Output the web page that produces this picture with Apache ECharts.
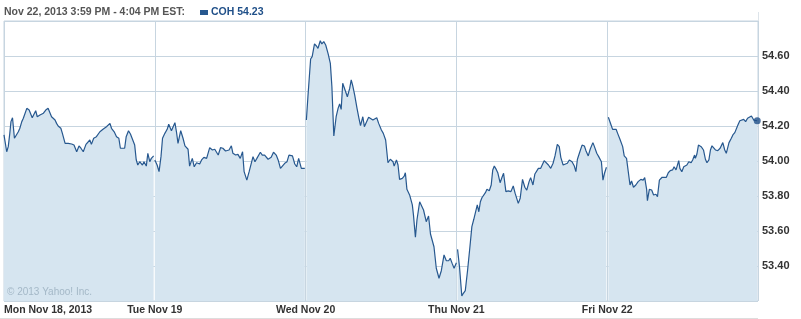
<!DOCTYPE html>
<html>
<head>
<meta charset="utf-8">
<script src="https://cdn.jsdelivr.net/npm/echarts@6/dist/echarts.min.js"></script>
<style>html,body{margin:0;padding:0;background:#fff}#c{width:801px;height:319px}</style>
</head>
<body>
<div id="c"></div>
<script>
// Day labels for the x axis
var dayLabels = ['Mon Nov 18, 2013', 'Tue Nov 19', 'Wed Nov 20', 'Thu Nov 21', 'Fri Nov 22'];
// Y tick values
var yTicks = [53.2, 53.4, 53.6, 53.8, 54.0, 54.2, 54.4, 54.6, 54.8];
var headerText = 'Nov 22, 2013 3:59 PM - 4:04 PM EST:';
var symbolName = 'COH';

// [minutes after 9:30, price] per trading day
var mon = [[0,54.149],[7,54.053],[11,54.082],[15,54.158],[18,54.225],[22,54.247],[27,54.130],[31,54.133],[37,54.167],[41,54.187],[46,54.225],[50,54.244],[59,54.301],[65,54.291],[73,54.247],[77,54.253],[82,54.287],[86,54.253],[93,54.263],[102,54.273],[108,54.291],[114,54.301],[119,54.291],[123,54.253],[127,54.244],[132,54.234],[136,54.215],[140,54.200],[147,54.187],[151,54.158],[158,54.101],[166,54.101],[175,54.097],[181,54.091],[188,54.053],[194,54.086],[199,54.073],[205,54.053],[212,54.095],[216,54.091],[222,54.120],[226,54.095],[232,54.130],[239,54.139],[248,54.167],[256,54.181],[265,54.196],[274,54.215],[278,54.187],[285,54.167],[291,54.139],[297,54.130],[301,54.073],[306,54.063],[312,54.073],[316,54.139],[322,54.173],[327,54.154],[332,54.149],[338,54.091],[342,54.006],[346,53.977],[351,53.996],[358,53.977],[362,53.996],[368,53.971],[372,54.044],[377,53.996],[381,54.015],[387,54.029]];
var tue = [[0,54.006],[6,53.977],[11,53.939],[16,54.025],[20,54.130],[26,54.158],[32,54.181],[36,54.210],[43,54.173],[52,54.219],[56,54.167],[60,54.101],[67,54.173],[73,54.130],[78,54.086],[86,54.067],[90,53.971],[97,54.015],[102,53.967],[108,53.990],[116,53.983],[121,54.006],[127,54.021],[134,54.015],[142,54.076],[149,54.063],[155,54.067],[164,54.034],[170,54.076],[176,54.073],[183,54.057],[192,54.063],[198,54.087],[202,54.044],[209,54.034],[215,54.038],[221,54.015],[227,54.053],[231,53.939],[238,53.891],[244,53.939],[248,53.949],[254,54.025],[259,53.996],[264,54.015],[273,54.050],[278,54.034],[284,54.034],[289,54.040],[293,54.010],[301,54.021],[307,54.050],[314,54.034],[319,54.006],[325,53.958],[330,53.964],[336,53.987],[342,53.996],[347,54.034],[356,54.029],[362,53.983],[367,53.967],[372,54.015],[379,53.958],[388,53.958]];
var wed = [[2,54.234],[6,54.367],[13,54.583],[17,54.596],[23,54.669],[28,54.657],[32,54.644],[38,54.687],[42,54.669],[47,54.682],[52,54.663],[58,54.615],[64,54.558],[68,54.425],[73,54.143],[79,54.253],[84,54.301],[88,54.326],[92,54.295],[96,54.444],[101,54.438],[108,54.367],[114,54.415],[118,54.463],[122,54.429],[127,54.377],[133,54.301],[138,54.244],[142,54.202],[148,54.253],[152,54.196],[157,54.193],[163,54.250],[168,54.257],[174,54.234],[178,54.234],[184,54.247],[189,54.215],[196,54.177],[201,54.158],[207,54.120],[213,53.990],[219,54.010],[226,53.996],[229,53.971],[235,54.006],[239,53.977],[243,53.895],[250,53.901],[255,53.914],[258,53.933],[262,53.838],[269,53.806],[276,53.749],[279,53.691],[284,53.564],[288,53.663],[295,53.767],[299,53.762],[305,53.720],[312,53.653],[318,53.686],[323,53.583],[328,53.577],[332,53.510],[338,53.387],[345,53.330],[351,53.373],[358,53.463],[364,53.430],[370,53.430],[374,53.444],[379,53.415],[384,53.387],[390,53.419]];
var thu = [[3,53.495],[8,53.396],[14,53.229],[18,53.244],[23,53.259],[29,53.377],[35,53.510],[40,53.625],[45,53.667],[49,53.673],[54,53.749],[58,53.710],[62,53.767],[66,53.790],[71,53.800],[75,53.819],[79,53.838],[85,53.830],[90,53.863],[94,53.949],[98,53.971],[103,53.952],[107,53.933],[113,53.876],[118,53.907],[122,53.930],[128,53.825],[134,53.829],[141,53.825],[147,53.857],[152,53.815],[160,53.758],[165,53.787],[171,53.895],[177,53.850],[182,53.834],[188,53.882],[192,53.905],[198,53.863],[203,53.926],[208,53.920],[212,53.958],[218,53.958],[222,53.964],[227,54.002],[231,54.006],[238,53.977],[244,53.958],[250,53.987],[255,54.029],[261,54.095],[266,54.082],[270,54.021],[276,53.977],[281,53.971],[287,53.987],[292,54.006],[299,53.996],[305,53.971],[309,53.939],[313,54.010],[318,54.044],[325,54.091],[331,54.086],[335,54.059],[341,54.029],[346,54.067],[353,54.105],[357,54.082],[363,54.044],[368,54.025],[375,53.996],[379,53.891],[383,53.930],[388,53.964]];
var fri = [[3,54.250],[10,54.206],[14,54.181],[23,54.181],[27,54.158],[33,54.124],[40,54.082],[44,54.029],[50,54.015],[54,54.006],[59,53.863],[63,53.886],[68,53.850],[74,53.863],[80,53.882],[87,53.895],[93,53.891],[97,53.905],[102,53.838],[104,53.773],[109,53.838],[115,53.834],[120,53.806],[126,53.810],[130,53.796],[135,53.891],[142,53.907],[147,53.914],[153,53.907],[158,53.933],[163,53.945],[169,53.949],[173,53.967],[178,53.949],[182,53.952],[185,54.002],[188,53.958],[193,53.939],[198,53.967],[202,53.958],[206,53.977],[211,53.996],[217,53.990],[221,54.006],[226,54.034],[228,54.015],[232,54.040],[236,54.091],[243,54.082],[249,54.063],[254,54.010],[258,53.990],[263,54.006],[267,54.063],[271,54.087],[276,54.076],[280,54.063],[286,54.059],[292,54.073],[299,54.105],[304,54.063],[308,54.044],[311,54.034],[315,54.105],[321,54.130],[325,54.149],[330,54.162],[334,54.171],[338,54.206],[343,54.230],[347,54.238],[353,54.238],[358,54.225],[363,54.244],[367,54.250],[373,54.257],[379,54.234],[383,54.225],[388,54.230]];

var days = [mon, tue, wed, thu, fri];
var SESSION = 390;
var lineColor = '#27588f';
var font = '"Liberation Sans", Arial, sans-serif';

function toXY(arr, d) { return arr.map(function (p) { return [d + p[0] / SESSION, p[1]]; }); }

var series = days.map(function (arr, d) {
  return {
    name: symbolName, type: 'line', data: toXY(arr, d),
    symbol: 'none', smooth: false, silent: true,
    lineStyle: { color: lineColor, width: 1.2 },
    itemStyle: { color: lineColor },
    areaStyle: { color: '#d6e5f0', opacity: 1 },
    z: 2
  };
});
var lastPt = toXY(fri, 4)[fri.length - 1];
var lastVal = fri[fri.length - 1][1];
series.push({
  type: 'scatter', data: [lastPt], symbol: 'circle', symbolSize: 7,
  itemStyle: { color: '#1f4f88' }, silent: true, z: 5
});

var chart = echarts.init(document.getElementById('c'), null, { renderer: 'canvas' });
chart.setOption({
  animation: false,
  backgroundColor: '#fff',
  title: {
    text: headerText, left: 4, top: 7, padding: 0,
    textStyle: { fontFamily: font, fontSize: 10.5, fontWeight: 'bold', color: '#555' }
  },
  legend: {
    data: [symbolName], left: 200, top: 7, padding: 0, icon: 'rect', itemWidth: 8, itemHeight: 5, itemGap: 4,
    formatter: function (n) { return n + ' ' + lastVal.toFixed(2); },
    textStyle: { fontFamily: font, fontSize: 10.5, fontWeight: 'bold', color: '#1f4f88', padding: [0, 0, 0, -2] }
  },
  grid: { left: 4, right: 43, top: 21, bottom: 18, show: true, borderColor: '#c7d5e0', borderWidth: 1, backgroundColor: 'transparent' },
  xAxis: {
    type: 'value', min: 0, max: 5, interval: 1,
    axisLine: { show: false }, axisTick: { show: false },
    splitLine: { show: true, lineStyle: { color: '#c7d5e0', width: 1 } },
    axisLabel: {
      show: true, margin: 4, showMaxLabel: false, alignMinLabel: 'left',
      fontFamily: font, fontSize: 10.5, fontWeight: 'bold', color: '#333',
      formatter: function (v) { return dayLabels[Math.round(v)] || ''; }
    }
  },
  yAxis: {
    type: 'value', position: 'right', min: yTicks[0], max: yTicks[yTicks.length - 1], interval: 0.2,
    axisLine: { show: false }, axisTick: { show: false },
    splitLine: { show: true, lineStyle: { color: '#c7d5e0', width: 1 } },
    axisLabel: {
      showMinLabel: false, showMaxLabel: false, margin: 4,
      fontFamily: font, fontSize: 11, fontWeight: 'bold', color: '#333',
      formatter: function (v) { return v.toFixed(2); }
    }
  },
  graphic: [
    { type: 'text', left: 7, top: 287, z: 10, silent: true,
      style: { text: '\u00a9 2013 Yahoo! Inc.', fontFamily: font, fontSize: 10, fill: '#a4b8c7' } },
    { type: 'line', z: 10, silent: true, shape: { x1: 0, y1: 318.5, x2: 758, y2: 318.5 }, style: { stroke: '#dddddd', lineWidth: 1 } },
    { type: 'line', z: 10, silent: true, shape: { x1: 758.5, y1: 12, x2: 758.5, y2: 21 }, style: { stroke: '#dde4ea', lineWidth: 1 } }
  ],
  series: series
});
</script>
</body>
</html>
